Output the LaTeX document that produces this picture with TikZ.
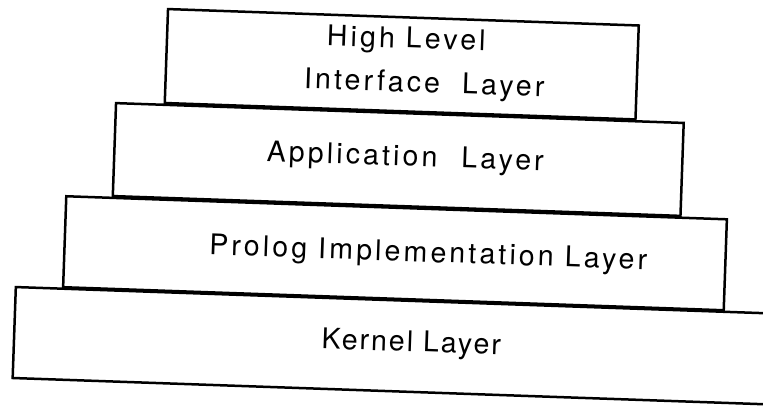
\documentclass[tikz,border=0pt]{standalone}
\usepackage{fontspec}
\setmainfont{TeX Gyre Heros}[LetterSpace=11]
\begin{document}
\begin{tikzpicture}[x=1pt,y=1pt,
  layerbox/.style={draw=black, line width=2.5pt, inner sep=0pt, rotate=-2, fill=none},
  layertext/.style={font=\fontsize{28.5}{34}\selectfont, inner sep=0pt, anchor=base, rotate=-2}]
\useasboundingbox (0,0) rectangle (763,-407);
\clip (0,0) rectangle (763,-407);
% boxes
\node[layerbox, minimum width=801pt, minimum height=91pt] (kernel) at (414.5,-346.5) {};
\node[layerbox, minimum width=661pt, minimum height=91pt] (prolog) at (395,-253.25) {};
\node[layerbox, minimum width=568pt, minimum height=93pt] (app) at (398.25,-159.5) {};
\node[layerbox, minimum width=471pt, minimum height=94pt] (hli) at (401.75,-64.25) {};
% texts
\node[layertext] (t1) at (406,-48) {High Level};
\node[layertext] (t2) at (424,-92.5) {Interface\ \ Layer};
\node[layertext] (t3) at (405,-166) {Application\hspace{24pt}Layer};
\node[layertext] (t4) at (428,-262) {Prolog Implementation Layer};
\node[layertext] (t5) at (411,-351.5) {\addfontfeatures{LetterSpace=7}Kernel Layer};
\end{tikzpicture}
\end{document}
